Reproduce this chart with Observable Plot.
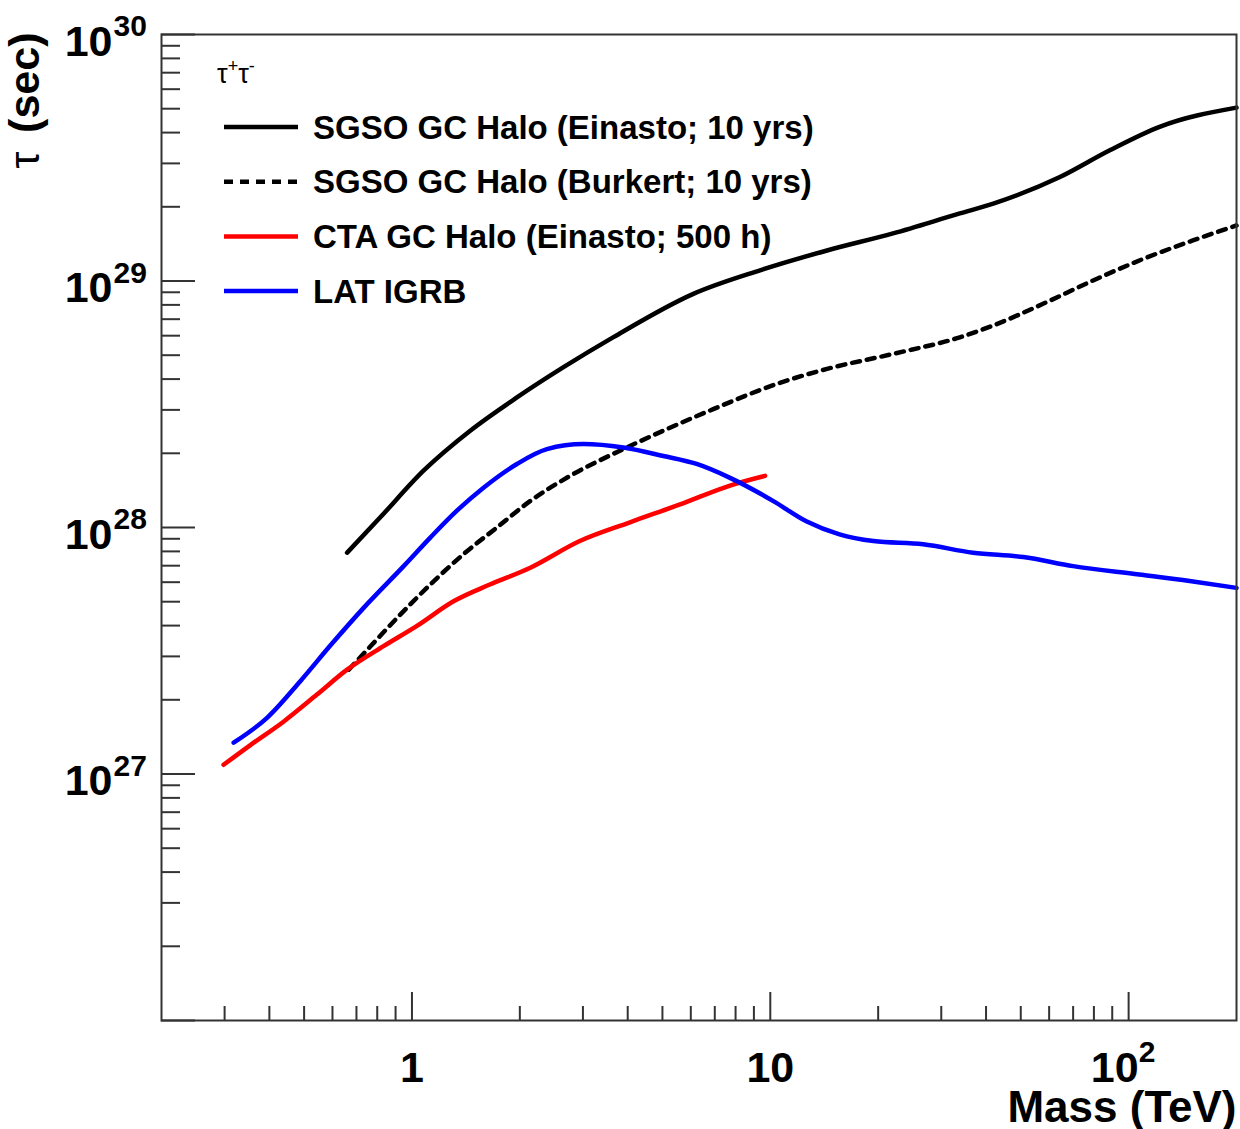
<!DOCTYPE html>
<html><head><meta charset="utf-8">
<script src="https://cdn.jsdelivr.net/npm/d3@7"></script>
<script src="https://cdn.jsdelivr.net/npm/@observablehq/plot@0.6"></script>
<style>body{margin:0;background:#fff} #chart svg{display:block}</style>
</head><body><div id="chart"></div>
<script>
// ---------- data ----------
const massEinasto = [0.659, 0.816, 1.077, 1.454, 1.963, 2.648, 3.65, 6.10, 9.36, 14.4, 22.0, 33.8, 41.9, 64.3, 88.6, 122, 200];
const tauEinasto  = [7.9e27, 1.10e28, 1.70e28, 2.47e28, 3.37e28, 4.47e28, 5.92e28, 8.87e28, 1.105e29, 1.33e29, 1.56e29, 1.88e29, 2.06e29, 2.64e29, 3.39e29, 4.22e29, 5.05e29];

const massBurkert = [0.666, 0.765, 0.908, 1.125, 1.393, 1.726, 2.138, 2.763, 3.89, 5.03, 6.93, 10.4, 14.4, 22.0, 33.8, 41.9, 57.7, 79.6, 110, 151, 200];
const tauBurkert  = [2.65e27, 3.29e27, 4.29e27, 5.87e27, 7.80e27, 1.0e28, 1.28e28, 1.62e28, 2.08e28, 2.47e28, 3.02e28, 3.82e28, 4.40e28, 5.06e28, 5.91e28, 6.60e28, 8.08e28, 1.005e29, 1.23e29, 1.46e29, 1.68e29];

const massCTA = [0.298, 0.354, 0.438, 0.543, 0.659, 0.833, 1.03, 1.31, 1.65, 2.14, 2.94, 4.06, 5.60, 7.72, 9.67];
const tauCTA  = [1.09e27, 1.31e27, 1.63e27, 2.10e27, 2.65e27, 3.30e27, 3.98e27, 5.03e27, 5.87e27, 6.87e27, 8.81e27, 1.05e28, 1.24e28, 1.48e28, 1.62e28];

const massIGRB = [0.318, 0.394, 0.488, 0.595, 0.733, 0.948, 1.125, 1.335, 1.584, 1.963, 2.38, 3.01, 3.89, 5.03, 6.23, 7.72, 10.2, 12.6, 15.6, 19.4, 26.7, 36.8, 50.8, 70.0, 107, 148, 200];
const tauIGRB  = [1.34e27, 1.69e27, 2.38e27, 3.35e27, 4.72e27, 6.97e27, 9.10e27, 1.17e28, 1.45e28, 1.81e28, 2.08e28, 2.18e28, 2.11e28, 1.95e28, 1.81e28, 1.59e28, 1.28e28, 1.06e28, 9.38e27, 8.81e27, 8.55e27, 7.90e27, 7.59e27, 6.97e27, 6.45e27, 6.07e27, 5.69e27];

const seriesNames  = ["SGSO GC Halo (Einasto; 10 yrs)", "SGSO GC Halo (Burkert; 10 yrs)", "CTA GC Halo (Einasto; 500 h)", "LAT IGRB"];
const seriesColors = ["#000000", "#000000", "#ff0000", "#0000ff"];
const seriesDashed = [false, true, false, false];
const legendHeader = ["τ", "+", "τ", "-"];

const xDomain = [0.2, 200];
const yDomain = [1e26, 1e30];
const xMajorTicks = [1, 10, 100];
const xPlainLabels = [{value: 1, text: "1"}, {value: 10, text: "10"}];
const xPowerLabels = [{value: 100, base: "10", exp: "2"}];
const yMajorTicks = [1e26, 1e27, 1e28, 1e29, 1e30];
const yPowerLabels = [{value: 1e27, base: "10", exp: "27"}, {value: 1e28, base: "10", exp: "28"}, {value: 1e29, base: "10", exp: "29"}, {value: 1e30, base: "10", exp: "30"}];
const xMinorTicks = [0.3,0.4,0.5,0.6,0.7,0.8,0.9, 2,3,4,5,6,7,8,9, 20,30,40,50,60,70,80,90];
const yMinorTicks = [];
for (const d of [1e26, 1e27, 1e28, 1e29]) for (const k of [2,3,4,5,6,7,8,9]) yMinorTicks.push(k * d);
const xTitle = "Mass (TeV)";
const yTitleSymbol = "τ";
const yTitleUnit = "(sec)";

// ---------- build ----------
const FONT = "'Liberation Sans', Arial, Helvetica, sans-serif";
const W = 1240, H = 1129, ML = 161, MR = 4, MT = 34, MB = 109;
const innerW = W - ML - MR, innerH = H - MT - MB;

const toRows = (ms, ts, name) => ms.map((m, i) => ({mass: m, tau: ts[i], name}));
const rows = [
  toRows(massEinasto, tauEinasto, seriesNames[0]),
  toRows(massBurkert, tauBurkert, seriesNames[1]),
  toRows(massCTA, tauCTA, seriesNames[2]),
  toRows(massIGRB, tauIGRB, seriesNames[3])
];

const lineMarks = rows.map((r, i) => Plot.line(r, {
  x: "mass", y: "tau", stroke: seriesColors[i], strokeWidth: 4.5,
  strokeDasharray: seriesDashed[i] ? "8,7" : null, curve: "monotone-x"
}));

function legendMark(index, scales, values, dimensions) {
  const ml = dimensions && dimensions.marginLeft != null ? dimensions.marginLeft : ML;
  const mt = dimensions && dimensions.marginTop != null ? dimensions.marginTop : MT;
  const g = d3.create("svg:g").attr("font-family", FONT).attr("text-anchor", "start");
  const h = g.append("text").attr("x", ml + 56).attr("y", mt + 49).attr("font-size", 27).attr("fill", "#000").attr("text-anchor", "start");
  h.append("tspan").text(legendHeader[0]);
  h.append("tspan").attr("dy", -11).attr("font-size", 18).text(legendHeader[1]);
  h.append("tspan").attr("dy", 11).text(legendHeader[2]);
  h.append("tspan").attr("dy", -11).attr("font-size", 18).text(legendHeader[3]);
  seriesNames.forEach((name, i) => {
    const y = mt + 93 + i * 54.7;
    g.append("line").attr("x1", ml + 63).attr("x2", ml + 137).attr("y1", y).attr("y2", y)
      .attr("stroke", seriesColors[i]).attr("stroke-width", 4.5)
      .attr("stroke-dasharray", seriesDashed[i] ? "9,7" : null);
    g.append("text").attr("x", ml + 152).attr("y", y + 11.5).attr("text-anchor", "start")
      .attr("font-size", 33).attr("font-weight", "bold").attr("fill", "#000").text(name);
  });
  return g.node();
}

const tickStyle = {stroke: "#333", strokeWidth: 2};
const labelFont = {fontFamily: FONT, fontWeight: "bold", fill: "#000"};

const chart = Plot.plot({
  width: W, height: H,
  marginLeft: ML, marginRight: MR, marginTop: MT, marginBottom: MB,
  style: {fontFamily: FONT, background: "#fff"},
  x: {type: "log", domain: xDomain, axis: null},
  y: {type: "log", domain: yDomain, axis: null},
  marks: [
    ...lineMarks,
    Plot.tickY(yMinorTicks, {y: d => d, insetRight: innerW - 19, ...tickStyle}),
    Plot.tickY(yMajorTicks, {y: d => d, insetRight: innerW - 34, ...tickStyle}),
    Plot.tickX(xMinorTicks, {x: d => d, insetTop: innerH - 14, ...tickStyle}),
    Plot.tickX(xMajorTicks, {x: d => d, insetTop: innerH - 28, ...tickStyle}),
    Plot.frame({stroke: "#333", strokeWidth: 2}),
    // y tick labels 10^n
    Plot.text(yPowerLabels, {y: "value", text: "base", frameAnchor: "left", lineAnchor: "middle", textAnchor: "end", dx: -49, dy: 7.5, fontSize: 43, ...labelFont}),
    Plot.text(yPowerLabels, {y: "value", text: "exp", frameAnchor: "left", lineAnchor: "middle", textAnchor: "start", dx: -48, dy: -8, fontSize: 30, ...labelFont}),
    // x tick labels
    Plot.text(xPlainLabels, {x: "value", text: "text", frameAnchor: "bottom", lineAnchor: "middle", textAnchor: "middle", dy: 48, fontSize: 43, ...labelFont}),
    Plot.text(xPowerLabels, {x: "value", text: "base", frameAnchor: "bottom", lineAnchor: "middle", textAnchor: "end", dx: 10, dy: 48, fontSize: 43, ...labelFont}),
    Plot.text(xPowerLabels, {x: "value", text: "exp", frameAnchor: "bottom", lineAnchor: "middle", textAnchor: "start", dx: 10, dy: 32, fontSize: 30, ...labelFont}),
    // axis titles
    Plot.text([xTitle], {text: d => d, frameAnchor: "bottom-right", textAnchor: "end", lineAnchor: "bottom", dy: 101, fontSize: 44, ...labelFont}),
    Plot.text([yTitleUnit], {text: d => d, frameAnchor: "top-left", textAnchor: "end", lineAnchor: "bottom", rotate: -90, dx: -123, dy: -2, fontSize: 43, ...labelFont}),
    Plot.text([yTitleSymbol], {text: d => d, frameAnchor: "top-left", textAnchor: "end", lineAnchor: "bottom", rotate: -90, dx: -123, dy: 117, fontSize: 43, fontFamily: FONT, fontWeight: "normal", fill: "#000"}),
    legendMark
  ]
});
document.getElementById("chart").appendChild(chart);
</script></body></html>
